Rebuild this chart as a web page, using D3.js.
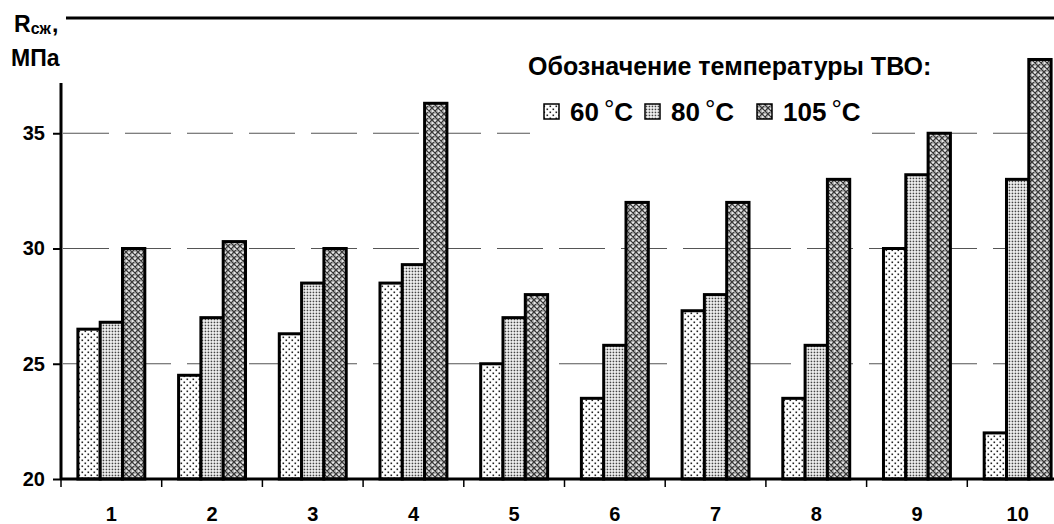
<!DOCTYPE html>
<html><head><meta charset="utf-8">
<script src="https://cdn.jsdelivr.net/npm/d3@7"></script>
<style>
html,body{margin:0;padding:0;background:#fff;}
svg{display:block;font-family:"Liberation Sans",Arial,sans-serif;font-weight:bold;}
</style></head>
<body>
<svg id="chart" width="1054" height="524"></svg>
<script>
const categories = ["1","2","3","4","5","6","7","8","9","10"];
const seriesNames = ["60","80","105"];
const values60  = [26.5, 24.5, 26.3, 28.5, 25.0, 23.5, 27.3, 23.5, 30.0, 22.0];
const values80  = [26.8, 27.0, 28.5, 29.3, 27.0, 25.8, 28.0, 25.8, 33.2, 33.0];
const values105 = [30.0, 30.3, 30.0, 36.3, 28.0, 32.0, 32.0, 33.0, 35.0, 38.2];
const yTicks = [20, 25, 30, 35];
const gridValues = [25, 30, 35];
const legendTitle = "Обозначение температуры ТВО:";
const yLabelMain = "R", yLabelSub = "сж", yLabelUnit = "МПа";

const seriesValues = [values60, values80, values105];
const svg = d3.select("#chart");

// patterns
const defs = svg.append("defs");
const p1 = defs.append("pattern").attr("id","pat60").attr("patternUnits","userSpaceOnUse").attr("width",6).attr("height",6);
p1.append("rect").attr("width",6).attr("height",6).attr("fill","#fff");
p1.append("rect").attr("x",0.5).attr("y",0.5).attr("width",1.6).attr("height",1.6).attr("fill","#222");
p1.append("rect").attr("x",3.5).attr("y",3.5).attr("width",1.6).attr("height",1.6).attr("fill","#222");
const p2 = defs.append("pattern").attr("id","pat80").attr("patternUnits","userSpaceOnUse").attr("width",3).attr("height",3);
p2.append("rect").attr("width",3).attr("height",3).attr("fill","#fff");
p2.append("rect").attr("x",0.6).attr("y",0.6).attr("width",1.7).attr("height",1.7).attr("fill","#444");
const p3 = defs.append("pattern").attr("id","pat105").attr("patternUnits","userSpaceOnUse").attr("width",6).attr("height",6);
p3.append("rect").attr("width",6).attr("height",6).attr("fill","#b4b4b4");
p3.append("path").attr("d","M0,0L6,6M6,0L0,6M-1,5L1,7M5,-1L7,1M-1,1L1,-1M5,7L7,5").attr("stroke","#333").attr("stroke-width",1.1);
p3.append("rect").attr("x",2.3).attr("y",0).attr("width",1.4).attr("height",1.4).attr("fill","#fff");
p3.append("rect").attr("x",0).attr("y",2.3).attr("width",1.4).attr("height",1.4).attr("fill","#fff");
const fills = ["url(#pat60)","url(#pat80)","url(#pat105)"];

const x0 = 61, plotRight = 61 + 10*100.7;
const x = d3.scaleBand().domain(categories).range([x0, plotRight]).paddingInner(0).paddingOuter(0);
const xs = d3.scaleBand().domain(seriesNames).range([0, x.bandwidth()]).paddingInner(0).paddingOuter(0.757);
const y = d3.scaleLinear().domain([20, 40]).range([479, 18]);

// gridlines
svg.append("g").selectAll("line").data(gridValues).join("line")
  .attr("x1", x0+2).attr("x2", 1054).attr("y1", d=>y(d)).attr("y2", d=>y(d))
  .attr("stroke","#555").attr("stroke-width",1.2).attr("stroke-dasharray","46,16");

// top border at 40
svg.append("line").attr("x1",x0).attr("x2",1054).attr("y1",y(40)).attr("y2",y(40))
  .attr("stroke","#000").attr("stroke-width",3);

// legend background (covers gridline)
svg.append("rect").attr("x",530).attr("y",50).attr("width",342).attr("height",90).attr("fill","#fff");

// bars
const g = svg.append("g");
categories.forEach((c,i)=>{
  seriesNames.forEach((s,j)=>{
    const v = seriesValues[j][i];
    g.append("rect")
      .attr("x", x(c)+xs(s)).attr("width", xs.bandwidth())
      .attr("y", y(v)).attr("height", y(20)-y(v))
      .attr("fill", fills[j]).attr("stroke","#000").attr("stroke-width",3)
      .attr("stroke-linejoin","miter");
  });
});

// y axis
const yAxis = d3.axisLeft(y).tickValues(yTicks).tickSize(8).tickPadding(8).tickFormat(d3.format("d"));
const ya = svg.append("g").attr("transform",`translate(${x0},0)`).call(yAxis);
ya.select(".domain").attr("stroke","#000").attr("stroke-width",3).attr("d",`M0,${y(40)}V${y(20)}`);
ya.selectAll(".tick line").attr("stroke","#000").attr("stroke-width",2);
ya.selectAll(".tick text").attr("font-size",20).attr("font-weight","bold").attr("fill","#000")
  .attr("font-family","'Liberation Sans',Arial,sans-serif");

// x axis
const xa = svg.append("g").attr("transform",`translate(0,${y(20)})`)
  .call(d3.axisBottom(x).tickSize(0).tickPadding(28));
xa.select(".domain").attr("stroke","#000").attr("stroke-width",3).attr("d",`M${x0},0H1054`);
xa.selectAll(".tick text").attr("font-size",20).attr("font-weight","bold").attr("fill","#000")
  .attr("font-family","'Liberation Sans',Arial,sans-serif");
// boundary ticks
svg.append("g").selectAll("line").data(categories).join("line")
  .attr("x1", d=>x(d)).attr("x2", d=>x(d)).attr("y1", y(20)).attr("y2", y(20)+8)
  .attr("stroke","#000").attr("stroke-width",1.5);

// label cover box
svg.append("rect").attr("x",0).attr("y",0).attr("width",66).attr("height",83).attr("fill","#fff");
const yl = svg.append("text").attr("x",14).attr("y",32).attr("font-size",23);
yl.append("tspan").text(yLabelMain);
yl.append("tspan").attr("font-size",16).attr("dy",2).text(yLabelSub);
yl.append("tspan").attr("dy",-2).attr("dx",1).text(",");
svg.append("text").attr("x",11).attr("y",66).attr("font-size",23).text(yLabelUnit);

// legend
svg.append("text").attr("x",528).attr("y",75).attr("font-size",25).text(legendTitle);
const legX = [544, 645, 757];
seriesNames.forEach((s,j)=>{
  svg.append("rect").attr("x",legX[j]).attr("y",104).attr("width",15).attr("height",15)
    .attr("fill",fills[j]).attr("stroke","#000").attr("stroke-width",1.5);
  const t = svg.append("text").attr("x",legX[j]+26).attr("y",121).attr("font-size",26);
  t.append("tspan").text(s);
  t.append("tspan").attr("dx",5).attr("dy",-3).attr("font-weight","normal").text("°");
  t.append("tspan").attr("dy",3).text("C");
});
</script>
</body></html>
